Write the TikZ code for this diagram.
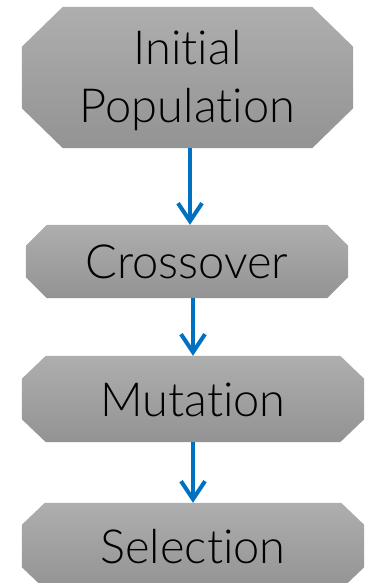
\documentclass[tikz,border=0pt]{standalone}
\usepackage{fontspec}
\newfontfamily\lblfont[Ligatures={NoCommon,NoDiscretionary}]{Lato Light}
\usetikzlibrary{arrows.meta}
\definecolor{flowblue}{HTML}{0070C0}
\definecolor{boxtop}{HTML}{AEAEAE}
\definecolor{boxbot}{HTML}{939393}
\tikzset{
  stage/.style={rectangle, draw=none, inner sep=0pt},
  stagefill/.style={top color=boxtop, bottom color=boxbot, draw=none},
  stagetext/.style={anchor=base, inner sep=0pt, font=\lblfont\fontsize{47}{56}\selectfont},
  flow/.style={draw=flowblue, line width=4pt,
    -{Straight Barb[length=18pt,width=24pt]}},
}
% octagonal outline round a named node: #1 node, #2 horizontal cut, #3 vertical cut
\newcommand\stageshape[3]{%
  \shade[stagefill] ([xshift=#2]#1.north west) -- ([xshift=-#2]#1.north east)
    -- ([yshift=-#3]#1.north east) -- ([yshift=#3]#1.south east)
    -- ([xshift=-#2]#1.south east) -- ([xshift=#2]#1.south west)
    -- ([yshift=#3]#1.south west) -- ([yshift=-#3]#1.north west) -- cycle;}
\begin{document}
\begin{tikzpicture}[x=1pt,y=-1pt]
  \useasboundingbox (0,0) rectangle (365,583);
  % stage boxes
  \node[stage, minimum width=331pt, minimum height=141pt] (init) at (187.5,77.5) {};
  \node[stage, minimum width=322pt, minimum height=73pt] (cross) at (187,261.5) {};
  \node[stage, minimum width=342pt, minimum height=86pt] (mut) at (193,399) {};
  \node[stage, minimum width=342pt, minimum height=86pt] (sel) at (193,546) {};
  \stageshape{init}{41pt}{40pt}
  \stageshape{cross}{21pt}{21pt}
  \stageshape{mut}{24pt}{23pt}
  \stageshape{sel}{23pt}{22pt}
  % labels
  \node[stagetext] (initA) at ([yshift=12.5pt]init.center) {Initial};
  \node[stagetext] (initB) at ([yshift=-45.5pt]init.center) {Population};
  \node[stagetext] (crossT) at ([yshift=-17pt]cross.center) {Crossover};
  \node[stagetext] (mutT) at ([yshift=-17pt]mut.center) {Mutation};
  \node[stagetext] (selT) at ([yshift=-17pt]sel.center) {Selection};
  % connectors
  \draw[flow] ([xshift=2.5pt]init.south) -- ([xshift=2.5pt]init.south |- cross.north);
  \draw[flow] (cross.south -| mut.north) -- (mut.north);
  \draw[flow] (mut.south) -- (sel.north);
\end{tikzpicture}
\end{document}
